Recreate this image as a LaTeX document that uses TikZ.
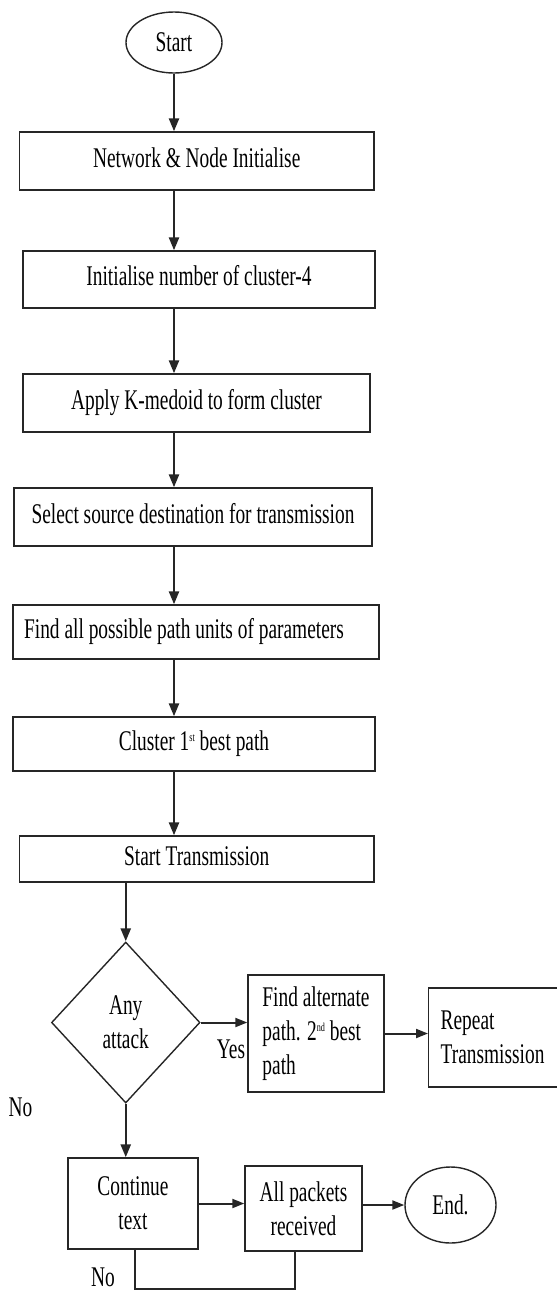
\documentclass[tikz,border=0pt]{standalone}
\usepackage{fontspec}
\setmainfont{Liberation Serif}[FakeStretch=0.68]
\usetikzlibrary{shapes.geometric,arrows.meta,calc}
\newcommand{\supsmall}[1]{\raisebox{9pt}{\fontsize{12}{12}\selectfont #1}}
\begin{document}
\begin{tikzpicture}[x=1pt,y=-1pt,
  every node/.style={font=\fontsize{28.5}{34}\selectfont, inner sep=0pt, text=black},
  box/.style={draw=black!85, line width=1.4pt, rectangle},
  onebox/.style={box, text height=19pt, text depth=7pt},
  term/.style={draw=black!85, line width=1.4pt, ellipse},
  arr/.style={draw=black!85, line width=2.4pt, -{Triangle[length=13pt,width=10pt]}},
  harr/.style={draw=black!85, line width=2pt, -{Triangle[length=12pt,width=9pt]}},
  plain/.style={draw=black!85, line width=1.5pt}]
\useasboundingbox (0,0) rectangle (557,1291);

\node[term, minimum width=96pt, minimum height=61pt] (start) at (174,42.5) {Start};
\node[onebox, minimum width=354.5pt, minimum height=58pt] (b1) at (196.75,161) {Network \& Node Initialise};
\node[onebox, minimum width=352pt, minimum height=57pt] (b2) at (199,279.5) {Initialise number of cluster-4};
\node[onebox, minimum width=347pt, minimum height=58pt] (b3) at (196.5,403) {Apply K-medoid to form cluster};
\node[onebox, minimum width=358pt, minimum height=58pt] (b4) at (193,517) {Select source destination for transmission};
\node[onebox, minimum width=366pt, minimum height=54pt] (b5) at (196,632) {Find all possible path units of parameters\hspace*{24pt}};
\node[onebox, minimum width=362pt, minimum height=54pt] (b6) at (194,744) {Cluster 1\supsmall{st} best path};
\node[onebox, minimum width=354.5pt, minimum height=46pt] (b7) at (196.75,859) {Start Transmission};

\node[draw=black!85, line width=1.4pt, diamond, minimum width=148.5pt, minimum height=161pt, align=center] (d) at (125.75,1022.5) {Any\\attack};
\node[box, minimum width=136pt, minimum height=117pt, align=left] (b8) at (316,1033.5) {Find alternate\\path. 2\supsmall{nd} best\\path};
\node[box, anchor=west, minimum width=134pt, minimum height=99pt, text width=110pt, inner xsep=12pt, align=left] (b9) at (428,1037.5) {Repeat\\Transmission};

\node[box, minimum width=130pt, minimum height=91pt, align=center] (b10) at (133,1203.5) {Continue\\text};
\node[box, minimum width=117pt, minimum height=85pt, align=center] (b11) at (303.5,1208.5) {All packets\\received};
\node[term, minimum width=91pt, minimum height=76pt] (end) at (450.5,1205) {End.};

\node (yes) at (231,1049) {Yes};
\node (no1) at (20.5,1107) {No};
\node (no2) at (103,1277) {No};

\draw[arr] (start.south) -- (start.south |- b1.north);
\draw[arr] (b1.south -| start.south) -- (b2.north -| start.south);
\draw[arr] (b2.south -| start.south) -- (b3.north -| start.south);
\draw[arr] (b3.south -| start.south) -- (b4.north -| start.south);
\draw[arr] (b4.south -| start.south) -- (b5.north -| start.south);
\draw[arr] (b5.south -| start.south) -- (b6.north -| start.south);
\draw[arr] (b6.south -| start.south) -- (b7.north -| start.south);
\draw[arr] (b7.south -| d.north) -- (d.north);
\draw[harr] (d.east) -- (d.east -| b8.west);
\draw[harr] (b8.east) -- (b8.east -| b9.west);
\draw[arr] (d.south) -- (d.south |- b10.north);
\draw[harr] (b10.east) -- (b10.east -| b11.west);
\draw[harr] (b11.east |- end.west) -- (end.west);

\coordinate (l1) at (135,1289);
\coordinate (l2) at (295,1289);
\draw[plain] (b10.south -| l1) -- (l1) -- (l2) -- (l2 |- b11.south);
\end{tikzpicture}
\end{document}
